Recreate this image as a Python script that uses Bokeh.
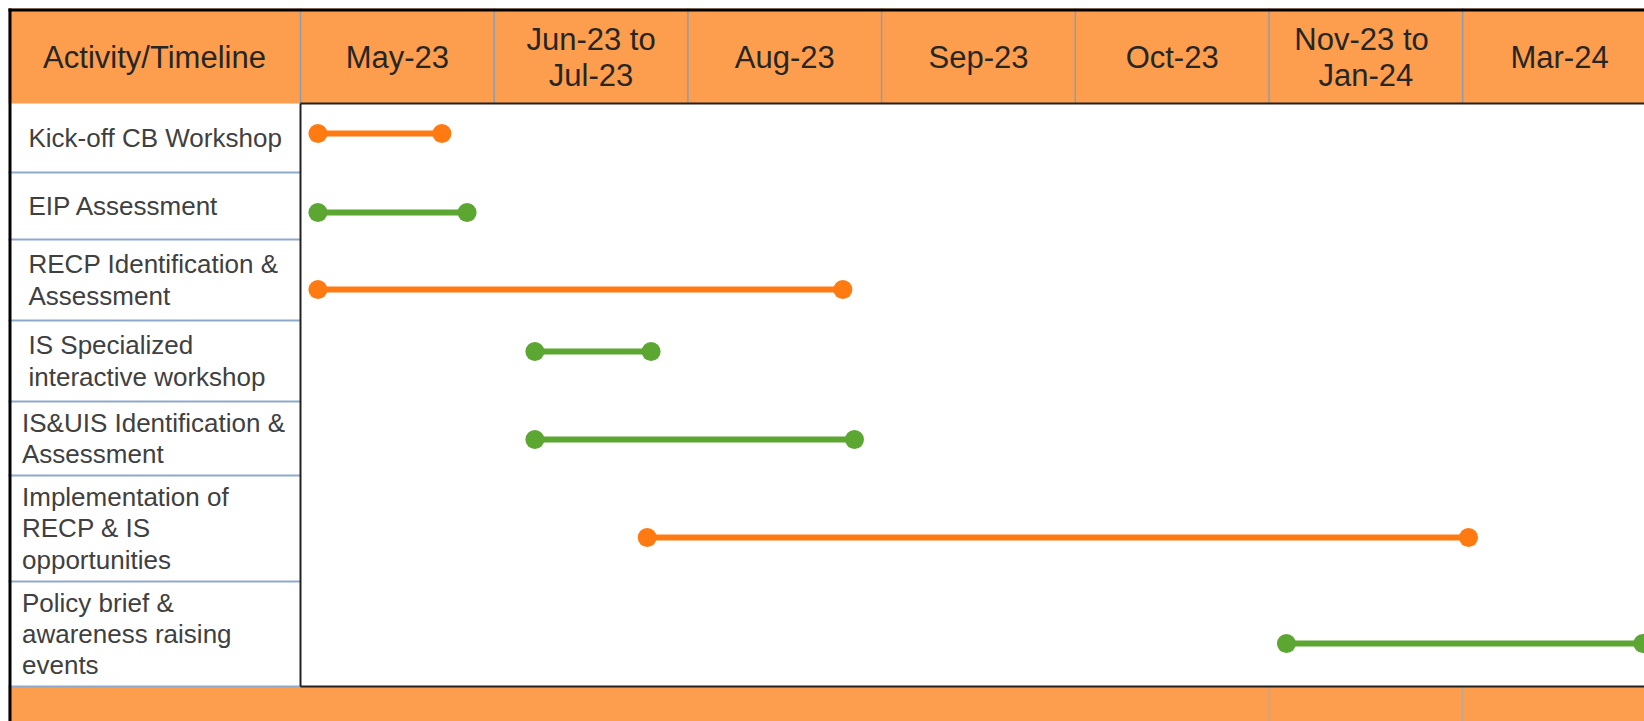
from bokeh.plotting import figure
from bokeh.models import Range1d, ColumnDataSource
from bokeh.core.properties import value
from bokeh.embed import file_html
from bokeh.resources import INLINE

# ---------------- data ----------------
activities = [
    "Kick-off CB Workshop",
    "EIP Assessment",
    "RECP Identification &\nAssessment",
    "IS Specialized\ninteractive workshop",
    "IS&UIS Identification &\nAssessment",
    "Implementation of\nRECP & IS\nopportunities",
    "Policy brief &\nawareness raising\nevents",
]
periods = ["May-23", "Jun-23 to\nJul-23", "Aug-23", "Sep-23", "Oct-23",
           "Nov-23  to\nJan-24", "Mar-24"]
# start / end of each activity on the timeline (in period-column units)
start = [0.09, 0.09, 0.09, 1.21, 1.21, 1.79, 5.09]
end = [0.73, 0.86, 2.80, 1.81, 2.86, 6.03, 6.93]
stream = ["orange", "green", "orange", "green", "green", "orange", "green"]
header_title = "Activity/Timeline"

# ---------------- layout / style ----------------
W, H = 1644, 721
M = 8                # offset of the table from the page corner
COL = 193.7          # px per period column
LEFT = 292           # px width of the activity column
HEAD = 95            # header height px
row_h = [69, 67, 81, 81, 74, 106, 105]
bar_pos = [0.435, 0.597, 0.617, 0.383, 0.514, 0.585, 0.59]
indent = [20, 20, 20, 20, 13.5, 13.5, 13.5]
colors = {"orange": "#ff7b12", "green": "#5ca632"}
HEAD_FILL = "#fd9e4e"
FONT = value("Liberation Sans")

px = 1.0 / COL
xs = -(LEFT + M) * px          # page left edge
xe = xs + W * px               # page right edge
xl = -LEFT * px                # table left edge

top0 = M
head_bot = M + HEAD
row_top = []
acc = head_bot
for h in row_h:
    row_top.append(acc)
    acc += h
table_bottom = acc

p = figure(width=W, height=H, x_range=Range1d(xs, xe), y_range=Range1d(H, 0),
           output_backend="svg", toolbar_location=None, title=None,
           x_axis_type=None, y_axis_type=None, min_border=0)
p.grid.visible = False
p.outline_line_color = None
p.background_fill_color = "white"
p.border_fill_color = "white"

# header band and bottom band
p.quad(left=xl, right=xe, top=top0, bottom=head_bot, fill_color=HEAD_FILL, line_color=None)
p.quad(left=xl, right=xe, top=table_bottom, bottom=H, fill_color=HEAD_FILL, line_color=None)

# header column separators
ncol = len(periods)
cols = list(range(ncol + 1))
p.segment(x0=cols, y0=[top0] * len(cols), x1=cols, y1=[head_bot] * len(cols),
          line_color="#8f9cad", line_width=1.5)
# bottom band separators
p.segment(x0=[5, 6], y0=[table_bottom] * 2, x1=[5, 6], y1=[H] * 2,
          line_color="#a9a9a9", line_width=1)

# left column row separators
ys = [t + h for t, h in zip(row_top, row_h)]
p.segment(x0=[xl] * len(ys), y0=ys, x1=[0] * len(ys), y1=ys,
          line_color="#8eaacb", line_width=2)

# timeline box
p.segment(x0=[0, 0, 0], y0=[head_bot, head_bot, table_bottom], x1=[xe, 0, xe],
          y1=[head_bot, table_bottom, table_bottom], line_color="#222222", line_width=2)

# outer border (top, left)
p.quad(left=xl, right=xe, top=top0, bottom=top0 + 3, fill_color="black", line_color=None)
p.quad(left=xl, right=xl + 3 * px, top=top0, bottom=H, fill_color="black", line_color=None)

# header texts
p.text(x=[xl / 2] + [i + 0.5 for i in range(ncol)],
       y=[(top0 + head_bot) / 2 + 1.5] * (ncol + 1),
       text=[header_title] + periods, text_font=FONT, text_font_size="31px",
       text_color="#262626", text_align="center", text_baseline="middle",
       text_line_height=1.05)

# activity labels
centers = [t + h / 2 for t, h in zip(row_top, row_h)]
p.text(x=[xl] * len(activities), y=centers, x_offset=indent, text=activities,
       text_font=FONT, text_font_size="26px", text_color="#404040",
       text_align="left", text_baseline="middle", text_line_height=1.04)

# bars
bar_y = [t + f * h for t, f, h in zip(row_top, bar_pos, row_h)]
src = ColumnDataSource(dict(start=start, end=end, y=bar_y,
                            color=[colors[s] for s in stream]))
p.segment(x0="start", y0="y", x1="end", y1="y", source=src,
          line_color="color", line_width=6)
p.scatter(x="start", y="y", source=src, size=19, fill_color="color", line_color=None)
p.scatter(x="end", y="y", source=src, size=19, fill_color="color", line_color=None)

open("out.html", "w").write(file_html(p, INLINE))
